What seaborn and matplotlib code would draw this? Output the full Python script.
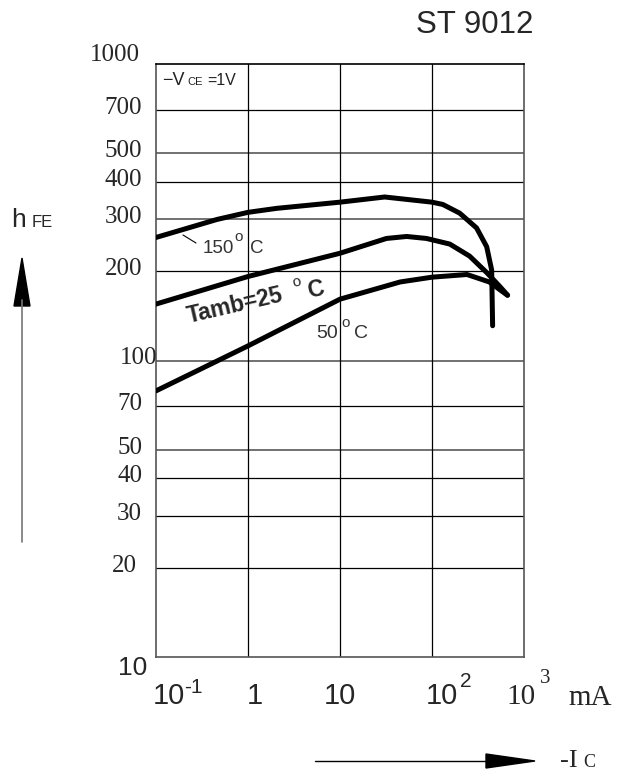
import matplotlib
matplotlib.use('Agg')
import matplotlib.pyplot as plt
from matplotlib.lines import Line2D
from matplotlib.patches import Polygon
import seaborn as sns
import pandas as pd

W, H = 619, 772

# --- data (Ic in mA, hFE) ---
ic_150 = [0.1, 0.46, 1, 2.06, 10, 30.6, 100, 131, 200, 305, 393, 445, 456]
hfe_150 = [260, 299, 316, 326, 342, 356, 342, 336, 314, 280, 242, 202, 131]
ic_25 = [0.1, 1, 10, 32, 53, 87, 156, 256, 393, 543, 664]
hfe_25 = [155, 192, 230, 258, 262, 258, 247, 225, 198, 178, 166]
ic_50 = [0.1, 1, 10, 45, 100, 240, 420, 660]
hfe_50 = [79, 112, 161, 184, 191, 195, 184, 166]

y_ticks = [1000, 700, 500, 400, 300, 200, 100, 70, 50, 40, 30, 20]
grid_y = [700, 500, 400, 300, 200, 100, 70, 50, 40, 30, 20]
grid_y_grey = [500, 300, 100, 50]
grid_x = [1, 10, 100]
x_ticks = [0.1, 1, 10, 100, 1000]
x_tick_base = ['10', '1', '10', '10', '10']
x_tick_sup = ['-1', '', '', '2', '3']

df = pd.concat([
    pd.DataFrame({'ic': ic_150, 'hfe': hfe_150, 'curve': '150'}),
    pd.DataFrame({'ic': ic_25, 'hfe': hfe_25, 'curve': '25'}),
    pd.DataFrame({'ic': ic_50, 'hfe': hfe_50, 'curve': '50'}),
])

sns.set_theme(style='white')
plt.rcParams['font.family'] = ['Liberation Sans', 'DejaVu Sans']


def pt(px):
    return px * 0.72


def fpos(x, y):
    return x / W, 1 - y / H


def inch(x, y):
    return x / 100, (H - y) / 100


fig = plt.figure(figsize=(W / 100, H / 100), dpi=100)
ax = fig.add_axes([156 / W, 1 - 657 / H, 368 / W, 593 / H])

ax.set_xscale('log')
ax.set_yscale('log')
sns.lineplot(data=df, x='ic', y='hfe', hue='curve', palette=['black'] * 3,
             estimator=None, sort=False, lw=3.6, legend=False, ax=ax, zorder=3)
ax.set_xlim(0.1, 1000)
ax.set_ylim(10, 1000)
ax.tick_params(which='both', length=0, labelbottom=False, labelleft=False)
ax.set_xlabel('')
ax.set_ylabel('')

for v in grid_y:
    grey = v in grid_y_grey
    ax.axhline(v, color='#666666' if grey else 'black', lw=1.3 if grey else 0.9, zorder=1)
for v in grid_x:
    ax.axvline(v, color='black', lw=0.9, zorder=1)
for s in ax.spines.values():
    s.set_color('#555555')
    s.set_linewidth(1.2)
ax.spines['top'].set_color('black')

# y tick labels
for v in y_ticks:
    dx, dy = -14, 2
    if v == 100:
        dx = 1
    if v == 20:
        dx = -19
    if v == 1000:
        dx, dy = -16, 9
    ax.annotate(str(v), xy=(0, v), xycoords=ax.get_yaxis_transform(),
                xytext=(pt(dx), pt(dy)), textcoords='offset points',
                ha='right', va='center', fontsize=18, family='Liberation Serif')
fig.text(*fpos(147, 668), '10', ha='right', va='center', fontsize=19)

# x tick labels
base_dx = [13, 7, 0, 10, -3]
sup_dx = [28, 0, 0, 28, 16]
sup_dy = [-36, 0, 0, -30, -26]
for i, xv in enumerate(x_ticks):
    fam = 'Liberation Serif' if xv == 1000 else 'Liberation Sans'
    ax.annotate(x_tick_base[i], xy=(xv, 0), xycoords=ax.get_xaxis_transform(),
                xytext=(pt(base_dx[i]), pt(-47)), textcoords='offset points',
                ha='center', va='baseline', fontsize=21, family=fam)
    if x_tick_sup[i]:
        ax.annotate(x_tick_sup[i], xy=(xv, 0), xycoords=ax.get_xaxis_transform(),
                    xytext=(pt(sup_dx[i]), pt(sup_dy[i])), textcoords='offset points',
                    ha='left', va='baseline', fontsize=15, family=fam)
fig.text(*fpos(568, 705), 'mA', ha='left', va='baseline', fontsize=21, family='Liberation Serif')

# title and axis names
fig.text(*fpos(475, 33), 'ST 9012', ha='center', va='baseline', fontsize=22.5)
fig.text(*fpos(11, 227), 'h', ha='left', va='baseline', fontsize=19)
fig.text(*fpos(32, 227), 'FE', ha='left', va='baseline', fontsize=12)
fig.text(*fpos(560, 767), '-I', ha='left', va='baseline', fontsize=19, family='Liberation Serif')
fig.text(*fpos(583, 767), 'C', ha='left', va='baseline', fontsize=13, family='Liberation Serif')

# arrows
fig.add_artist(Line2D(*zip(inch(22, 542), inch(22, 300)), color='#777777', lw=1.2,
                      transform=fig.dpi_scale_trans))
fig.add_artist(Polygon([inch(22, 258), inch(14, 306), inch(30, 306)], closed=True,
                       color='black', transform=fig.dpi_scale_trans))
fig.add_artist(Line2D(*zip(inch(315, 761), inch(490, 761)), color='black', lw=1.0,
                      transform=fig.dpi_scale_trans))
fig.add_artist(Polygon([inch(535, 761), inch(486, 754), inch(486, 768)], closed=True,
                       color='black', transform=fig.dpi_scale_trans))

# annotations inside the plot
fig.text(*fpos(162, 85), '\u2212V', ha='left', va='baseline', fontsize=13, color='#222222')
fig.text(*fpos(187, 85), 'CE', ha='left', va='baseline', fontsize=8, color='#222222')
fig.text(*fpos(207, 85), '=1V', ha='left', va='baseline', fontsize=11.5, color='#222222')

fig.text(*fpos(203, 253), '150', ha='left', va='baseline', fontsize=13.5, color='#333333')
fig.text(*fpos(234, 241), 'o', ha='left', va='baseline', fontsize=11, color='#333333')
fig.text(*fpos(250, 253), 'C', ha='left', va='baseline', fontsize=13.5, color='#333333')
fig.add_artist(Line2D(*zip(inch(183, 235), inch(196, 243)), color='black', lw=0.8,
                      transform=fig.dpi_scale_trans))

fig.text(*fpos(316, 338), '50', ha='left', va='baseline', fontsize=14, color='#333333')
fig.text(*fpos(341, 327), 'o', ha='left', va='baseline', fontsize=11, color='#333333')
fig.text(*fpos(354, 338), 'C', ha='left', va='baseline', fontsize=14, color='#333333')

fig.text(*fpos(189, 323), 'Tamb=25', ha='left', va='baseline', fontsize=16.5,
         fontweight='bold', rotation=13, rotation_mode='anchor')
fig.text(*fpos(293, 287), 'o', ha='left', va='baseline', fontsize=11, rotation=13,
         rotation_mode='anchor')
fig.text(*fpos(309, 298), 'C', ha='left', va='baseline', fontsize=16.5,
         fontweight='bold', rotation=13, rotation_mode='anchor')

fig.savefig('out.png', dpi=100)
